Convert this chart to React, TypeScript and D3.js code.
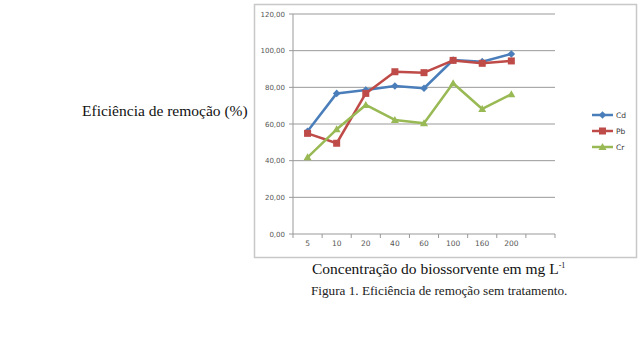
import React from "react";
import * as d3 from "d3";

const categories = ["5", "10", "20", "40", "60", "100", "160", "200", ""];
const cdValues = [56, 76.7, 78.5, 80.7, 79.5, 94.9, 94, 98.2];
const pbValues = [54.9, 49.5, 76.7, 88.5, 88, 94.7, 93.1, 94.4];
const crValues = [41.8, 57.1, 70.4, 62.2, 60.4, 82.2, 68.2, 76.2];
const yTicks = [0, 20, 40, 60, 80, 100, 120];
const seriesNames = ["Cd", "Pb", "Cr"];

const colors = ["#4a7ebb", "#be4b48", "#98b954"];

export default function App() {
  const left = 293, right = 555, top = 14, bottom = 234;
  const x = d3.scaleBand<string>().domain(categories).range([left, right]);
  const y = d3.scaleLinear().domain([0, 120]).range([bottom, top]);
  const series = [cdValues, pbValues, crValues];
  const line = d3
    .line<number>()
    .x((_, i) => (x(categories[i]) as number) + x.bandwidth() / 2)
    .y((d) => y(d));

  const marker = (s: number, cx: number, cy: number, key: string) => {
    const c = colors[s];
    if (s === 0) {
      const r = 3.8;
      return <path key={key} d={`M${cx},${cy - r}L${cx + r},${cy}L${cx},${cy + r}L${cx - r},${cy}Z`} fill={c} />;
    }
    if (s === 1) {
      return <rect key={key} x={cx - 3.5} y={cy - 3.5} width={7} height={7} fill={c} />;
    }
    return <path key={key} d={`M${cx},${cy - 4}L${cx + 4},${cy + 3}L${cx - 4},${cy + 3}Z`} fill={c} />;
  };

  const fmt = (v: number) => v.toFixed(2).replace(".", ",");
  const boundaries = categories.map((c) => x(c) as number).concat([right]);

  return (
    <svg width={640} height={359} style={{ position: "absolute", left: 0, top: 0, background: "#fff" }}>
      <rect x={254.5} y={4.5} width={382} height={253} fill="#fff" stroke="#c8c8c8" strokeWidth={1.5} />
      {yTicks.map((t) => (
        <g key={t}>
          <line x1={left - 4} x2={right} y1={y(t)} y2={y(t)} stroke="#999" strokeWidth={1} />
          <text x={left - 8} y={y(t) + 2.5} fontSize={7} fontFamily="DejaVu Sans" fill="#555" textAnchor="end">
            {fmt(t)}
          </text>
        </g>
      ))}
      <line x1={left} x2={left} y1={top} y2={bottom} stroke="#999" strokeWidth={1} />
      {boundaries.map((b, i) => (
        <line key={i} x1={b} x2={b} y1={bottom} y2={bottom + 4} stroke="#999" strokeWidth={1} />
      ))}
      {categories.map((c) => (
        <text key={c + "l"} x={(x(c) as number) + x.bandwidth() / 2} y={bottom + 12} fontSize={7.5} fontFamily="DejaVu Sans" fill="#555" textAnchor="middle">
          {c}
        </text>
      ))}
      {series.map((vals, s) => (
        <g key={s}>
          <path d={line(vals) || ""} fill="none" stroke={colors[s]} strokeWidth={2.5} strokeLinejoin="round" />
          {vals.map((v, i) => marker(s, (x(categories[i]) as number) + x.bandwidth() / 2, y(v), `${s}-${i}`))}
        </g>
      ))}
      {seriesNames.map((n, s) => {
        const ly = 115 + s * 16;
        return (
          <g key={n}>
            <line x1={592} x2={613} y1={ly} y2={ly} stroke={colors[s]} strokeWidth={2.5} />
            {marker(s, 602.5, ly, "lg" + s)}
            <text x={616} y={ly + 3} fontSize={7.5} fontFamily="DejaVu Sans" fill="#333">
              {n}
            </text>
          </g>
        );
      })}
      <text x={82} y={116} fontSize={15.5} fontFamily="Liberation Serif" fill="#111">
        Eficiência de remoção (%)
      </text>
      <text x={312} y={274} fontSize={15.5} fontFamily="Liberation Serif" fill="#111">
        Concentração do biossorvente em mg L<tspan fontSize={8} dy={-6}>-1</tspan>
      </text>
      <text x={311} y={295} fontSize={13.2} fontFamily="Liberation Serif" fill="#222">
        Figura 1. Eficiência de remoção sem tratamento.
      </text>
    </svg>
  );
}
